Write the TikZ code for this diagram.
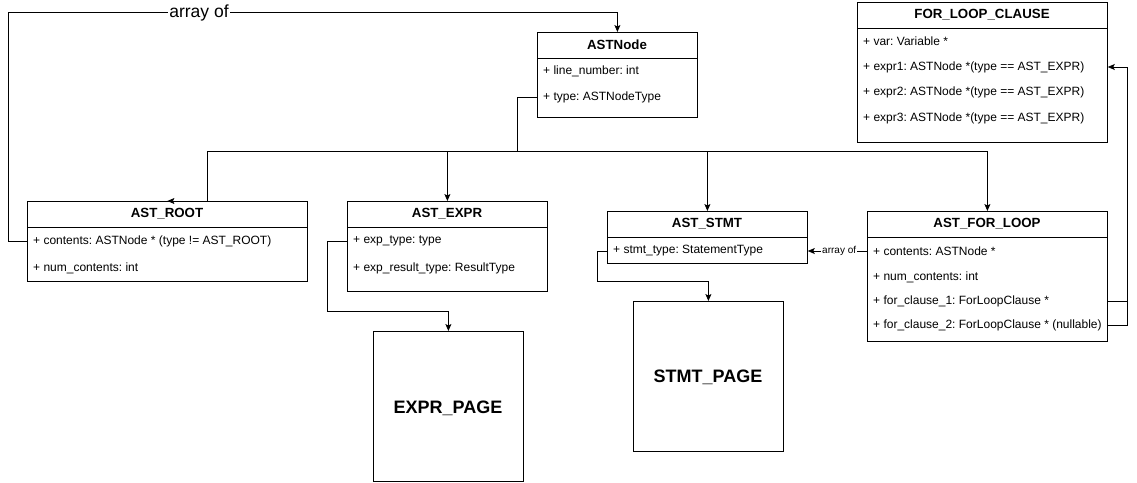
\documentclass[tikz,border=0pt]{standalone}
\usepackage{fontspec}
\setmainfont{Liberation Sans}
\usetikzlibrary{arrows.meta,calc}
\begin{document}
\frenchspacing
\begin{tikzpicture}[x=1pt,y=-1pt,
  box/.style={draw, line width=0.8pt, rectangle, anchor=north west, inner sep=0pt},
  ttl/.style={font=\bfseries\fontsize{13.3}{15}\selectfont, inner sep=0pt},
  row/.style={font=\fontsize{12}{14}\selectfont, anchor=west, inner sep=0pt},
  conn/.style={line width=0.8pt},
  arr/.style={conn, -{Stealth[length=7pt,width=6pt,inset=1.5pt]}},
  pagebox/.style={box, font=\bfseries\fontsize{18}{21}\selectfont}]
\useasboundingbox (0,0) rectangle (1137,482);

% ASTNode
\node[box, minimum width=160pt, minimum height=85pt] (ast) at (537,32) {};
\draw[conn] (ast.west |- 0,58) -- (ast.east |- 0,58);
\node[ttl] (astT) at (617,45) {ASTNode};
\node[row] (astR1) at (543,71) {+ line\_number: int};
\node[row] (astR2) at (543,97) {+ type: ASTNodeType};

% AST_ROOT
\node[box, minimum width=280pt, minimum height=80pt] (root) at (27,201) {};
\draw[conn] (root.west |- 0,227) -- (root.east |- 0,227);
\node[ttl] (rootT) at (167,214) {AST\_ROOT};
\node[row] (rootR1) at (33,241) {+ contents: ASTNode * (type != AST\_ROOT)};
\node[row] (rootR2) at (33,268) {+ num\_contents: int};

% AST_EXPR
\node[box, minimum width=200pt, minimum height=90pt] (expr) at (347,201) {};
\draw[conn] (expr.west |- 0,227) -- (expr.east |- 0,227);
\node[ttl] (exprT) at (447,214) {AST\_EXPR};
\node[row] (exprR1) at (353,241) {+ exp\_type: type};
\node[row] (exprR2) at (353,268) {+ exp\_result\_type: ResultType};

% AST_STMT
\node[box, minimum width=200pt, minimum height=52pt] (stmt) at (607,211) {};
\draw[conn] (stmt.west |- 0,237) -- (stmt.east |- 0,237);
\node[ttl] (stmtT) at (707,224) {AST\_STMT};
\node[row] (stmtR1) at (613,251) {+ stmt\_type: StatementType};

% AST_FOR_LOOP
\node[box, minimum width=240pt, minimum height=130pt] (forl) at (867,211) {};
\draw[conn] (forl.west |- 0,237) -- (forl.east |- 0,237);
\node[ttl] (forlT) at (987,224) {AST\_FOR\_LOOP};
\node[row] (forR1) at (873,251) {+ contents: ASTNode *};
\node[row] (forR2) at (873,277) {+ num\_contents: int};
\node[row] (forR3) at (873,301) {+ for\_clause\_1: ForLoopClause *};
\node[row] (forR4) at (873,325) {+ for\_clause\_2: ForLoopClause * (nullable)};

% FOR_LOOP_CLAUSE
\node[box, minimum width=250pt, minimum height=140pt] (flc) at (857,2) {};
\draw[conn] (flc.west |- 0,28) -- (flc.east |- 0,28);
\node[ttl] (flcT) at (982,15) {FOR\_LOOP\_CLAUSE};
\node[row] (flcR1) at (863,41) {+ var: Variable *};
\node[row] (flcR2) at (863,67) {+ expr1: ASTNode *(type == AST\_EXPR)};
\node[row] (flcR3) at (863,92) {+ expr2: ASTNode *(type == AST\_EXPR)};
\node[row] (flcR4) at (863,118) {+ expr3: ASTNode *(type == AST\_EXPR)};

% pages
\node[pagebox, minimum width=150pt, minimum height=150pt] (epage) at (373,331) {};
\node[font=\bfseries\fontsize{18}{21}\selectfont] (epageT) at (448,408) {EXPR\_PAGE};
\node[pagebox, minimum width=150pt, minimum height=150pt] (spage) at (633,301) {};
\node[font=\bfseries\fontsize{18}{21}\selectfont] (spageT) at (708,377) {STMT\_PAGE};

% connectors
\coordinate (hub) at (517,151);
\coordinate (rootj) at (207,201);
\draw[conn] (ast.west |- astR2) -| (hub);
\draw[arr] (hub) -| (rootj) -- (root.north);
\draw[arr] (hub) -| (expr.north);
\draw[arr] (hub) -| (stmt.north);
\draw[arr] (hub) -| (forl.north);

\coordinate (tl) at (8,12);
\draw[arr] (root.west |- rootR1) -| (tl) -| (ast.north);
\node[fill=white, inner sep=1pt, font=\fontsize{17.5}{19}\selectfont] (lbl1) at (199,13) {array of};

\coordinate (e1) at (327,311);
\draw[arr] (expr.west |- exprR1) -| (e1) -| (epage.north);
\coordinate (s1) at (597,281);
\draw[arr] (stmt.west |- stmtR1) -| (s1) -| (spage.north);

\draw[arr] (forl.west |- forR1) -- (stmt.east |- stmtR1)
  node[pos=0.47, fill=white, inner sep=1pt, font=\fontsize{10}{11}\selectfont] (lbl2) {array of};

\coordinate (rj) at (1127,301);
\draw[arr] (forl.east |- forR3) -- (rj) |- (flc.east |- flcR2);
\draw[conn] (forl.east |- forR4) -| (rj);
\end{tikzpicture}
\end{document}
